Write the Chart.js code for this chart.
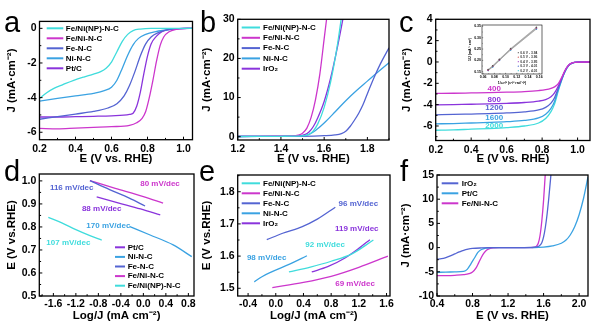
<!DOCTYPE html>
<html>
<head>
<meta charset="utf-8">
<script src="https://cdn.jsdelivr.net/npm/chart.js@4.4.0/dist/chart.umd.min.js"></script>
<style>
  html, body { margin: 0; padding: 0; background: #fff; }
  #wrap { position: relative; width: 600px; height: 328px; overflow: hidden; }
  #wrap canvas { position: absolute; left: 0; top: 0; }
</style>
</head>
<body>
<div id="wrap">
  <canvas id="pa" width="600" height="328"></canvas>
  <canvas id="pb" width="600" height="328"></canvas>
  <canvas id="pc" width="600" height="328"></canvas>
  <canvas id="pcin" width="600" height="328"></canvas>
  <canvas id="pd" width="600" height="328"></canvas>
  <canvas id="pe" width="600" height="328"></canvas>
  <canvas id="pf" width="600" height="328"></canvas>
</div>
<script>
// ---------- colours ----------
const CYAN = '#3fdcdc', MAGENTA = '#cc36cc', BLUE = '#5464d2', SKY = '#3aa2e2', VIOLET = '#8a34dc';

// ---------- (a) ORR polarization curves, E (V) vs J (mA cm-2) ----------
const orrNames = ['Fe/Ni(NP)-N-C', 'Fe/Ni-N-C', 'Fe-N-C', 'Ni-N-C', 'Pt/C'];
const orrFeNiNP = [[0.2,-4.05],[0.24,-3.72],[0.28,-3.47],[0.33,-3.25],[0.39,-3.0],[0.45,-2.8],[0.5,-2.65],[0.54,-2.5],[0.57,-2.3],[0.6,-1.95],[0.63,-1.35],[0.66,-0.75],[0.69,-0.35],[0.72,-0.13],[0.76,-0.04],[0.82,0],[1.05,0]];
const orrFeNi = [[0.2,-5.78],[0.3,-5.8],[0.4,-5.76],[0.5,-5.72],[0.6,-5.68],[0.7,-5.6],[0.74,-5.45],[0.77,-5.2],[0.79,-4.8],[0.81,-4.0],[0.83,-3.0],[0.85,-1.9],[0.87,-1.0],[0.89,-0.5],[0.92,-0.2],[0.96,-0.06],[1.0,-0.01],[1.05,0]];
const orrFe = [[0.2,-5.25],[0.3,-5.1],[0.4,-4.95],[0.5,-4.8],[0.58,-4.6],[0.63,-4.35],[0.67,-3.9],[0.7,-3.3],[0.73,-2.5],[0.76,-1.6],[0.79,-0.9],[0.82,-0.5],[0.86,-0.25],[0.9,-0.1],[0.95,-0.03],[1.05,0]];
const orrNi = [[0.2,-4.2],[0.3,-4.05],[0.4,-3.9],[0.5,-3.75],[0.56,-3.6],[0.6,-3.4],[0.63,-3.0],[0.66,-2.3],[0.69,-1.55],[0.72,-0.95],[0.75,-0.58],[0.79,-0.35],[0.84,-0.2],[0.9,-0.1],[0.96,-0.03],[1.05,0]];
const orrPtC = [[0.2,-5.12],[0.3,-5.12],[0.4,-5.1],[0.5,-5.08],[0.6,-5.05],[0.7,-4.97],[0.72,-4.9],[0.74,-4.5],[0.76,-3.7],[0.78,-2.6],[0.8,-1.6],[0.82,-0.9],[0.85,-0.45],[0.88,-0.2],[0.92,-0.07],[0.96,-0.02],[1.05,0]];

// ---------- (b) OER polarization curves ----------
const oerNames = ['Fe/Ni(NP)-N-C', 'Fe/Ni-N-C', 'Fe-N-C', 'Ni-N-C', 'IrO\u2082'];
const oerFeNiNP = [[1.2,0.05],[1.4,0.1],[1.5,0.2],[1.53,0.6],[1.55,1.5],[1.57,3.2],[1.6,7.5],[1.63,14],[1.66,23],[1.68,30.5]];
const oerFeNi = [[1.2,0.1],[1.3,0.1],[1.4,0.15],[1.45,0.2],[1.48,0.4],[1.5,0.9],[1.52,2.2],[1.54,5],[1.56,9.5],[1.58,16],[1.6,25],[1.62,34]];
const oerFe = [[1.2,0.05],[1.5,0.1],[1.6,0.25],[1.65,0.45],[1.68,0.8],[1.7,1.4],[1.72,2.6],[1.74,4.2],[1.76,6.0],[1.78,8.2],[1.8,11],[1.83,15],[1.86,18.6],[1.9,22.7]];
const oerNi = [[1.2,0.05],[1.45,0.1],[1.5,0.2],[1.53,0.6],[1.56,1.6],[1.6,3.5],[1.65,6.3],[1.7,9.2],[1.75,11.8],[1.8,14.2],[1.85,16.6],[1.9,18.9]];
const oerIrO2 = [[1.2,0.05],[1.4,0.1],[1.48,0.2],[1.51,0.5],[1.53,1.2],[1.55,2.6],[1.57,4.8],[1.6,9],[1.63,15],[1.66,22.5],[1.69,31]];

// ---------- (c) Fe/Ni-N-C at different rotation rates ----------
const rpmLabels = ['400', '800', '1200', '1600', '2000'];
const rpm400 = [[0.2,-2.95],[0.3,-2.93],[0.4,-2.9],[0.5,-2.87],[0.6,-2.83],[0.7,-2.77],[0.78,-2.68],[0.82,-2.6],[0.85,-2.48],[0.87,-2.33],[0.89,-2.05],[0.91,-1.45],[0.93,-0.75],[0.95,-0.28],[0.97,-0.08],[1.0,-0.01],[1.07,0]];
const rpm800 = [[0.2,-4.02],[0.3,-3.99],[0.4,-3.96],[0.5,-3.93],[0.6,-3.88],[0.7,-3.8],[0.78,-3.67],[0.82,-3.52],[0.85,-3.25],[0.87,-2.9],[0.89,-2.3],[0.91,-1.55],[0.93,-0.8],[0.95,-0.3],[0.97,-0.09],[1.0,-0.01],[1.07,0]];
const rpm1200 = [[0.2,-4.95],[0.3,-4.92],[0.4,-4.88],[0.5,-4.84],[0.6,-4.78],[0.7,-4.68],[0.78,-4.5],[0.82,-4.25],[0.85,-3.85],[0.87,-3.35],[0.89,-2.5],[0.91,-1.62],[0.93,-0.83],[0.95,-0.31],[0.97,-0.09],[1.0,-0.01],[1.07,0]];
const rpm1600 = [[0.2,-5.8],[0.3,-5.77],[0.4,-5.72],[0.5,-5.67],[0.6,-5.6],[0.7,-5.48],[0.78,-5.25],[0.82,-4.9],[0.85,-4.35],[0.87,-3.7],[0.89,-2.65],[0.91,-1.68],[0.93,-0.85],[0.95,-0.32],[0.97,-0.1],[1.0,-0.01],[1.07,0]];
const rpm2000 = [[0.2,-6.4],[0.3,-6.37],[0.4,-6.3],[0.5,-6.24],[0.6,-6.15],[0.7,-6.0],[0.78,-5.72],[0.82,-5.3],[0.85,-4.65],[0.87,-3.95],[0.89,-2.78],[0.91,-1.72],[0.93,-0.87],[0.95,-0.33],[0.97,-0.1],[1.0,-0.01],[1.07,0]];

// inset: Koutecky-Levich plots
const klLabels = ['0.6 V - 3.94', '0.5 V - 3.96', '0.4 V - 3.95', '0.3 V - 4.01', '0.2 V - 4.01'];
const klInvOmega = [0.069, 0.077, 0.089, 0.109, 0.155];
const klInvJ06 = [0.160, 0.176, 0.205, 0.252, 0.346];
const klInvJ05 = [0.158, 0.175, 0.203, 0.250, 0.344];
const klInvJ04 = [0.157, 0.174, 0.202, 0.249, 0.342];
const klInvJ03 = [0.156, 0.172, 0.201, 0.247, 0.340];
const klInvJ02 = [0.155, 0.171, 0.200, 0.246, 0.338];

// ---------- (d) ORR Tafel plots, log J vs E ----------
const tafelOrrNames = ['Pt/C', 'Ni-N-C', 'Fe-N-C', 'Fe/Ni-N-C', 'Fe/Ni(NP)-N-C'];
const tafelOrrPtC = [[-0.83,0.931],[-0.45,0.905],[-0.05,0.878],[0.3,0.852]];
const tafelOrrNi = [[-0.24,0.801],[0.12,0.765],[0.53,0.722],[0.86,0.671]];
const tafelOrrFe = [[-0.95,1.001],[-0.6,0.962],[-0.25,0.925],[0.03,0.891]];
const tafelOrrFeNi = [[-0.95,1.001],[-0.5,0.968],[0.0,0.932],[0.35,0.903]];
const tafelOrrFeNiNP = [[-1.69,0.842],[-1.45,0.818],[-1.2,0.788],[-0.95,0.762],[-0.74,0.743]];
const tafelOrrSlopes = ['80 mV/dec', '116 mV/dec', '88 mV/dec', '170 mV/dec', '107 mV/dec'];

// ---------- (e) OER Tafel plots ----------
const tafelOerNames = ['Fe/Ni(NP)-N-C', 'Fe/Ni-N-C', 'Fe-N-C', 'Ni-N-C', 'IrO\u2082'];
const tafelOerFeNiNP = [[0.19,1.551],[0.5,1.566],[0.8,1.584],[1.1,1.607],[1.41,1.65]];
const tafelOerFeNi = [[-0.05,1.502],[0.4,1.518],[0.8,1.537],[1.2,1.565],[1.62,1.6]];
const tafelOerFe = [[-0.13,1.651],[0.1,1.671],[0.375,1.691],[0.6,1.715],[0.86,1.752]];
const tafelOerNi = [[-0.31,1.52],[-0.2,1.536],[-0.06,1.551],[0.2,1.575],[0.45,1.601]];
const tafelOerIrO2 = [[0.52,1.551],[0.75,1.567],[1.0,1.594],[1.2,1.624],[1.36,1.651]];
const tafelOerSlopes = ['96 mV/dec', '119 mV/dec', '92 mV/dec', '98 mV/dec', '69 mV/dec'];

// ---------- (f) bifunctional ORR/OER curves ----------
const bifNames = ['IrO\u2082', 'Pt/C', 'Fe/Ni-N-C'];
const bifIrO2 = [[0.4,-2.4],[0.45,-2.3],[0.5,-2.05],[0.55,-1.7],[0.6,-1.3],[0.65,-0.9],[0.7,-0.55],[0.75,-0.32],[0.8,-0.18],[0.9,-0.07],[1.0,-0.02],[1.1,0],[1.3,0],[1.45,0.05],[1.52,0.15],[1.55,0.35],[1.58,1.0],[1.6,2.2],[1.62,4.2],[1.64,7.0],[1.66,10.5],[1.68,14.5],[1.7,19]];
const bifPtC = [[0.4,-5.1],[0.5,-5.07],[0.6,-5.02],[0.7,-4.92],[0.74,-4.5],[0.78,-3.4],[0.82,-2.2],[0.86,-1.0],[0.9,-0.4],[0.95,-0.1],[1.0,-0.02],[1.05,0],[1.5,0],[1.6,0.1],[1.7,0.35],[1.8,0.9],[1.85,1.5],[1.9,2.6],[1.95,4.3],[2.0,6.8],[2.05,10.2],[2.1,14.6]];
const bifFeNi = [[0.4,-5.8],[0.5,-5.78],[0.6,-5.72],[0.7,-5.6],[0.76,-5.4],[0.8,-5.05],[0.84,-4.2],[0.87,-3.1],[0.9,-2.0],[0.93,-1.1],[0.96,-0.5],[1.0,-0.15],[1.05,-0.03],[1.1,0],[1.45,0],[1.5,0.1],[1.52,0.3],[1.54,0.9],[1.56,2.5],[1.58,5.5],[1.6,9.8],[1.62,15.5],[1.64,21]];

// ---------- helpers ----------
const FONT = "'Liberation Sans', Arial, Helvetica, sans-serif";
Chart.defaults.font.family = FONT;
Chart.defaults.color = '#000';

const fmt0 = v => String(Math.round(v));
const fmt1 = v => v.toFixed(1);
const fmt2 = v => v.toFixed(2);

// frame, inward ticks, legend, notes and panel letter
const decoPlugin = {
  id: 'deco',
  beforeDraw(chart, args, o) {
    if (o && o.fill) {
      const a = chart.chartArea;
      chart.ctx.save();
      chart.ctx.fillStyle = o.fill;
      chart.ctx.fillRect(a.left, a.top, a.right - a.left, a.bottom - a.top);
      chart.ctx.restore();
    }
  },
  afterDraw(chart, args, o) {
    if (!o) return;
    const ctx = chart.ctx, a = chart.chartArea;
    const xs = chart.scales.x, ys = chart.scales.y;
    ctx.save();
    ctx.strokeStyle = '#000';
    ctx.lineWidth = o.tickWidth || 1;
    const major = o.major || 3, minor = o.minor || 1.8;
    const ticksOn = (scale, horizontal) => {
      const vals = scale.ticks.map(t => t.value);
      const mids = [];
      for (let i = 0; i < vals.length - 1; i++) mids.push((vals[i] + vals[i + 1]) / 2);
      if (vals.length > 1) {
        const st = vals[1] - vals[0];
        mids.push(vals[0] - st / 2, vals[vals.length - 1] + st / 2);
      }
      [[vals, major], [mids, minor]].forEach(([list, len]) => list.forEach(v => {
        if (v < scale.min - 1e-9 || v > scale.max + 1e-9) return;
        const p = scale.getPixelForValue(v);
        ctx.beginPath();
        if (horizontal) { ctx.moveTo(p, a.bottom); ctx.lineTo(p, a.bottom - len); }
        else { ctx.moveTo(a.left, p); ctx.lineTo(a.left + len, p); }
        ctx.stroke();
      }));
    };
    ticksOn(xs, true);
    ticksOn(ys, false);
    ctx.lineWidth = o.frameWidth || 1.3;
    ctx.strokeRect(a.left, a.top, a.right - a.left, a.bottom - a.top);

    if (o.legend) {
      const L = o.legend;
      ctx.font = `bold ${L.size || 8}px ${FONT}`;
      ctx.textBaseline = 'middle';
      ctx.textAlign = 'left';
      chart.data.datasets.forEach((ds, i) => {
        const y = L.y + i * L.dy;
        if (L.marker === 'dot') {
          ctx.fillStyle = ds.pointBackgroundColor;
          ctx.beginPath(); ctx.arc(L.x + L.len / 2, y, L.r || 0.7, 0, Math.PI * 2); ctx.fill();
        } else {
          ctx.strokeStyle = ds.borderColor;
          ctx.lineWidth = L.lw || 2;
          ctx.beginPath(); ctx.moveTo(L.x, y); ctx.lineTo(L.x + L.len, y); ctx.stroke();
        }
        ctx.fillStyle = L.color || '#000';
        ctx.fillText(ds.label, L.x + L.len + L.gap, y);
      });
    }
    if (o.notes) {
      ctx.textAlign = 'center';
      ctx.textBaseline = 'middle';
      o.notes.forEach(n => {
        ctx.font = `bold ${n.size || 8}px ${FONT}`;
        ctx.fillStyle = n.color;
        ctx.fillText(n.text, xs.getPixelForValue(n.x), ys.getPixelForValue(n.y));
      });
    }
    if (o.letter) {
      ctx.font = `${o.letter.size || 29}px ${FONT}`;
      ctx.fillStyle = '#000';
      ctx.textAlign = 'left';
      ctx.textBaseline = 'alphabetic';
      ctx.fillText(o.letter.text, o.letter.x, o.letter.y);
    }
    ctx.restore();
  }
};
Chart.register(decoPlugin);

function series(label, pts, color, extra) {
  return Object.assign({
    label,
    data: pts.map(([x, y]) => ({x, y})),
    borderColor: color,
    backgroundColor: color,
    showLine: true,
    pointRadius: 0,
    borderWidth: 1.3,
    cubicInterpolationMode: 'monotone',
    fill: false
  }, extra || {});
}

function axis(spec, which, s) {
  return {
    type: 'linear',
    min: spec.min,
    max: spec.max,
    afterBuildTicks: sc => { sc.ticks = spec.ticks.map(v => ({value: v})); },
    afterFit: sc => { if (which === 'x') sc.height = s.xH; else sc.width = s.yW; },
    grid: {display: false, drawTicks: false},
    border: {display: false},
    ticks: {
      font: {size: s.tickSize || 10.5, weight: 'bold'},
      padding: which === 'x' ? s.xPad : s.yPad,
      callback: v => spec.fmt(v),
      maxRotation: 0, autoSkip: false, color: '#000'
    },
    title: {display: true, text: spec.title, font: {size: s.titleSize || 11.5, weight: 'bold'}, padding: 0, color: '#000'}
  };
}

function makeChart(id, s) {
  const padding = {left: s.L - s.yW, right: 600 - s.R, top: s.T, bottom: 328 - s.B - s.xH};
  return new Chart(document.getElementById(id), {
    type: 'scatter',
    data: {datasets: s.datasets},
    options: {
      responsive: false, animation: false, events: [],
      layout: {padding},
      plugins: {legend: {display: false}, tooltip: {enabled: false}, deco: s.deco},
      scales: {x: axis(s.x, 'x', s), y: axis(s.y, 'y', s)}
    }
  });
}

const J_TITLE = 'J (mA\u00b7cm\u207b\u00b2)';
const E_TITLE = 'E (V vs. RHE)';
const E_TITLE2 = 'E (V vs.RHE)';
const LOGJ_TITLE = 'Log/J (mA cm\u207b\u00b2)';

// (a)
makeChart('pa', {
  L: 39.5, R: 192.5, T: 21.4, B: 139.7, yW: 34.1, xH: 26.1, xPad: 3.2, yPad: 3,
  x: {min: 0.2, max: 1.05, ticks: [0.2, 0.4, 0.6, 0.8, 1.0], fmt: fmt1, title: E_TITLE},
  y: {min: -6.43, max: 0.4, ticks: [-6, -4, -2, 0], fmt: fmt0, title: J_TITLE},
  datasets: [
    series(orrNames[0], orrFeNiNP, CYAN),
    series(orrNames[1], orrFeNi, MAGENTA),
    series(orrNames[2], orrFe, BLUE),
    series(orrNames[3], orrNi, SKY),
    series(orrNames[4], orrPtC, VIOLET)
  ],
  deco: {legend: {x: 46.7, y: 28.3, dy: 10, len: 16.6, gap: 2.5}, letter: {text: 'a', x: 4, y: 31.7}}
});

// (b)
makeChart('pb', {
  L: 237.7, R: 389, T: 19.3, B: 140, yW: 37.3, xH: 25.8, xPad: 3.2, yPad: 3,
  x: {min: 1.2, max: 1.9, ticks: [1.2, 1.4, 1.6, 1.8], fmt: fmt1, title: E_TITLE},
  y: {min: -0.85, max: 30, ticks: [0, 10, 20, 30], fmt: fmt0, title: J_TITLE},
  datasets: [
    series(oerNames[0], oerFeNiNP, CYAN),
    series(oerNames[1], oerFeNi, MAGENTA),
    series(oerNames[2], oerFe, BLUE),
    series(oerNames[3], oerNi, SKY),
    series(oerNames[4], oerIrO2, VIOLET)
  ],
  deco: {legend: {x: 241.7, y: 27.5, dy: 10.3, len: 18.3, gap: 3}, letter: {text: 'b', x: 200, y: 31.7}}
});

// (c)
const rpmColors = [MAGENTA, VIOLET, BLUE, SKY, CYAN];
const rpmNoteY = [-2.47, -3.56, -4.25, -5.19, -6.0];
makeChart('pc', {
  L: 435.7, R: 590, T: 19.3, B: 140.5, yW: 35.3, xH: 25.3, xPad: 3.2, yPad: 3,
  x: {min: 0.2, max: 1.07, ticks: [0.2, 0.4, 0.6, 0.8, 1.0], fmt: fmt1, title: E_TITLE},
  y: {min: -7.36, max: 4, ticks: [-6, -4, -2, 0, 2, 4], fmt: fmt0, title: J_TITLE},
  datasets: [
    series(rpmLabels[0], rpm400, rpmColors[0]),
    series(rpmLabels[1], rpm800, rpmColors[1]),
    series(rpmLabels[2], rpm1200, rpmColors[2]),
    series(rpmLabels[3], rpm1600, rpmColors[3]),
    series(rpmLabels[4], rpm2000, rpmColors[4])
  ],
  deco: {
    notes: rpmLabels.map((t, i) => ({text: t, x: 0.53, y: rpmNoteY[i], color: rpmColors[i]})),
    letter: {text: 'c', x: 399, y: 31.7}
  }
});

// (c) inset
const klColors = ['#555555', '#d04848', '#a040c8', '#4060d0', '#30c0d0'];
const klSets = [klInvJ06, klInvJ05, klInvJ04, klInvJ03, klInvJ02];
makeChart('pcin', {
  L: 482, R: 542, T: 25, B: 74, yW: 14.1, xH: 11.1, xPad: 0.6, yPad: 1, tickSize: 3.5, titleSize: 3.5,
  x: {min: 0.058, max: 0.165, ticks: [0.06, 0.08, 0.10, 0.12, 0.14, 0.16], fmt: fmt2, title: '1/\u03c9\u00b9/\u00b2 (s\u00b9/\u00b2 rad\u207b\u00b9/\u00b2)'},
  y: {min: 0.14, max: 0.356, ticks: [0.15, 0.20, 0.25, 0.30, 0.35], fmt: fmt2, title: '1/J (mA\u207b\u00b9 cm\u00b2)'},
  datasets: klSets.map((arr, i) => series(klLabels[i], klInvOmega.map((x, k) => [x, arr[k]]), '#9a9a9a', {
    borderWidth: 0.6, cubicInterpolationMode: 'default', pointRadius: 0.8,
    pointBackgroundColor: klColors[i], pointBorderWidth: 0
  })),
  deco: {
    fill: '#fff', frameWidth: 0.6, tickWidth: 0.4, major: 1.2, minor: 0.7,
    legend: {x: 517.5, y: 52.7, dy: 4.5, len: 1.6, gap: 1.2, size: 3.3, marker: 'dot', r: 0.6, color: '#333'}
  }
});

// (d)
const tafelOrrColors = [VIOLET, SKY, BLUE, MAGENTA, CYAN];
const tafelOrrNoteColors = [MAGENTA, BLUE, VIOLET, SKY, CYAN];
const tafelOrrNoteAt = [[0.296, 0.987], [-1.274, 0.968], [-0.741, 0.877], [-0.623, 0.805], [-1.334, 0.732]];
makeChart('pd', {
  L: 39.3, R: 194, T: 174, B: 296, yW: 33.9, xH: 26.3, xPad: 1.5, yPad: 3,
  x: {min: -1.85, max: 0.9, ticks: [-1.6, -1.2, -0.8, -0.4, 0.0, 0.4, 0.8], fmt: fmt1, title: LOGJ_TITLE},
  y: {min: 0.5, max: 1.03, ticks: [0.5, 0.6, 0.7, 0.8, 0.9, 1.0], fmt: fmt1, title: E_TITLE2},
  datasets: [
    series(tafelOrrNames[0], tafelOrrPtC, tafelOrrColors[0]),
    series(tafelOrrNames[1], tafelOrrNi, tafelOrrColors[1]),
    series(tafelOrrNames[2], tafelOrrFe, tafelOrrColors[2]),
    series(tafelOrrNames[3], tafelOrrFeNi, tafelOrrColors[3]),
    series(tafelOrrNames[4], tafelOrrFeNiNP, tafelOrrColors[4])
  ],
  deco: {
    legend: {x: 115, y: 247.3, dy: 9.6, len: 10, gap: 2.7},
    notes: tafelOrrSlopes.map((t, i) => ({text: t, x: tafelOrrNoteAt[i][0], y: tafelOrrNoteAt[i][1], color: tafelOrrNoteColors[i]})),
    letter: {text: 'd', x: 4, y: 181}
  }
});

// (e)
const tafelOerColors = [CYAN, MAGENTA, BLUE, SKY, VIOLET];
const tafelOerNoteColors = [BLUE, VIOLET, CYAN, SKY, MAGENTA];
const tafelOerNoteAt = [[1.193, 1.762], [1.17, 1.686], [0.712, 1.634], [-0.131, 1.595], [1.145, 1.513]];
makeChart('pe', {
  L: 237.7, R: 390, T: 175, B: 296, yW: 37.3, xH: 26.3, xPad: 1.5, yPad: 3,
  x: {min: -0.55, max: 1.65, ticks: [-0.4, 0.0, 0.4, 0.8, 1.2, 1.6], fmt: fmt1, title: LOGJ_TITLE},
  y: {min: 1.476, max: 1.852, ticks: [1.5, 1.6, 1.7, 1.8], fmt: fmt1, title: E_TITLE2},
  datasets: [
    series(tafelOerNames[0], tafelOerFeNiNP, tafelOerColors[0]),
    series(tafelOerNames[1], tafelOerFeNi, tafelOerColors[1]),
    series(tafelOerNames[2], tafelOerFe, tafelOerColors[2]),
    series(tafelOerNames[3], tafelOerNi, tafelOerColors[3]),
    series(tafelOerNames[4], tafelOerIrO2, tafelOerColors[4])
  ],
  deco: {
    legend: {x: 241.7, y: 183.3, dy: 10, len: 18.3, gap: 3},
    notes: tafelOerSlopes.map((t, i) => ({text: t, x: tafelOerNoteAt[i][0], y: tafelOerNoteAt[i][1], color: tafelOerNoteColors[i]})),
    letter: {text: 'e', x: 199, y: 181}
  }
});

// (f)
makeChart('pf', {
  L: 437, R: 588, T: 175, B: 296, yW: 38.3, xH: 26.3, xPad: 1.5, yPad: 3,
  x: {min: 0.4, max: 2.1, ticks: [0.4, 0.8, 1.2, 1.6, 2.0], fmt: fmt1, title: E_TITLE},
  y: {min: -10, max: 15, ticks: [-10, -5, 0, 5, 10, 15], fmt: fmt0, title: J_TITLE},
  datasets: [
    series(bifNames[0], bifIrO2, BLUE),
    series(bifNames[1], bifPtC, SKY),
    series(bifNames[2], bifFeNi, MAGENTA)
  ],
  deco: {legend: {x: 441.7, y: 183.3, dy: 10, len: 16.6, gap: 3.4}, letter: {text: 'f', x: 400, y: 181}}
});
</script>
</body>
</html>
